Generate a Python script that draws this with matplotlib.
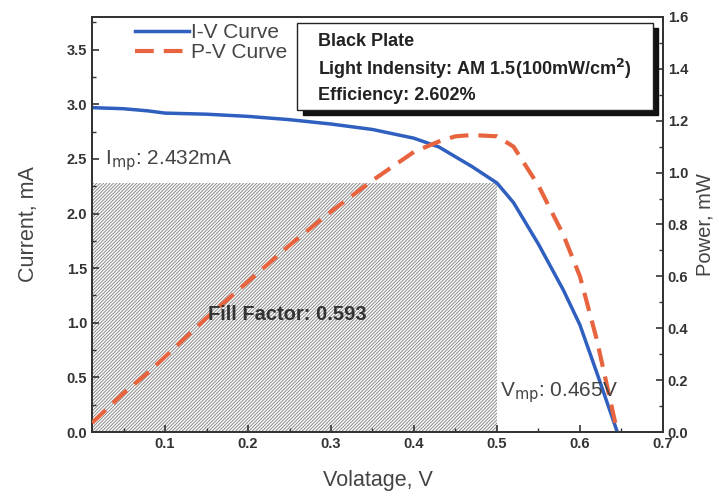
import matplotlib
matplotlib.use('Agg')
import matplotlib.pyplot as plt
from matplotlib.patches import Rectangle
from matplotlib.ticker import MultipleLocator

plt.rcParams['font.family'] = ['Liberation Sans', 'DejaVu Sans']
plt.rcParams['hatch.linewidth'] = 0.7
plt.rcParams['hatch.color'] = '#8a8a8a'

# values
voltage = [0.012, 0.05, 0.08, 0.1, 0.15, 0.2, 0.25, 0.3, 0.35, 0.4, 0.43, 0.45,
           0.47, 0.5, 0.52, 0.55, 0.58, 0.6, 0.62, 0.645]
current = [2.97, 2.96, 2.94, 2.92, 2.91, 2.89, 2.86, 2.82, 2.77, 2.69, 2.61, 2.52,
           2.43, 2.28, 2.10, 1.72, 1.30, 0.98, 0.55, 0.0]
power = [0.035, 0.15, 0.23, 0.29, 0.44, 0.58, 0.72, 0.85, 0.97, 1.08, 1.12, 1.14,
         1.145, 1.14, 1.10, 0.95, 0.76, 0.60, 0.36, 0.0]

v_box = 0.5      # hatched fill-factor rectangle
i_box = 2.28

info = ['Black Plate', 'Light Indensity: AM 1.5(100mW/cm$^{\\mathbf{2}}$)',
        'Efficiency: 2.602%']

fig = plt.figure(figsize=(7.19, 5.0), dpi=100)
ax = fig.add_axes([0.128, 0.136, 0.794, 0.830])
ax2 = ax.twinx()

ax.add_patch(Rectangle((0, 0), v_box, i_box, facecolor='white', edgecolor='#8a8a8a',
                       hatch='//////////', linewidth=0, zorder=0))

l1, = ax.plot(voltage, current, color='#2f5fbf', lw=2.5, zorder=3, label='I-V Curve')
l2, = ax2.plot(voltage, power, color='#e8643f', lw=3, dashes=(4.5, 2.4), zorder=3,
               label='P-V Curve')

ax.set_xlim(0.012, 0.7)
ax.set_ylim(0, 3.8)
ax2.set_ylim(0, 1.6)

ax.xaxis.set_major_locator(MultipleLocator(0.1))
ax.xaxis.set_minor_locator(MultipleLocator(0.05))
ax.yaxis.set_major_locator(MultipleLocator(0.5))
ax.yaxis.set_minor_locator(MultipleLocator(0.25))
ax2.yaxis.set_major_locator(MultipleLocator(0.2))
ax2.yaxis.set_minor_locator(MultipleLocator(0.1))

for a in (ax, ax2):
    a.tick_params(which='both', direction='in', labelsize=10.5, colors='#333333',
                  labelcolor='#333333')
    a.tick_params(which='major', length=5, width=1.2)
    a.tick_params(which='minor', length=3, width=1)
    for lab in a.get_xticklabels() + a.get_yticklabels():
        lab.set_fontweight('bold')
    for s in a.spines.values():
        s.set_linewidth(1.3)
        s.set_color('#333333')

ax.set_xlabel('Volatage, V', fontsize=15.5, color='#444444', labelpad=14)
ax.set_ylabel('Current, mA', fontsize=15.5, color='#444444', labelpad=20)
ax2.set_ylabel('Power, mW', fontsize=14.5, color='#444444', labelpad=5)

ax2.legend(handles=[l1, l2], loc='upper left', bbox_to_anchor=(0.075, 0.985),
           frameon=False, fontsize=15, handlelength=2.6, handletextpad=0.1,
           labelspacing=0.05, borderaxespad=0, borderpad=0, labelcolor='#444444')

# info box with drop shadow
ax2.add_patch(Rectangle((0.37, 0.764), 0.991 - 0.37, 0.973 - 0.764,
                        transform=ax.transAxes, facecolor='#111111',
                        edgecolor='#111111', zorder=6))
ax2.add_patch(Rectangle((0.359, 0.776), 0.982 - 0.359, 0.985 - 0.776,
                        transform=ax.transAxes, facecolor='white',
                        edgecolor='#222222', lw=1, zorder=7))
for k, t in enumerate(info):
    ax2.text(0.396, 0.940 - k * 0.064, t, transform=ax.transAxes, fontsize=13,
             fontweight='bold', color='#222222', va='center', zorder=8)

ax2.text(0.023, 0.655, 'I$_{\\rm mp}$: 2.432mA', transform=ax.transAxes,
         fontsize=15, color='#444444', va='center', zorder=8)
ax2.text(0.203, 0.282, 'Fill Factor: 0.593', transform=ax.transAxes, fontsize=14.5,
         fontweight='bold', color='#333333', va='center', zorder=8)
ax2.text(0.715, 0.094, 'V$_{\\rm mp}$: 0.465V', transform=ax.transAxes, fontsize=15,
         color='#444444', va='center', zorder=8)

fig.savefig('out.png', dpi=100)
